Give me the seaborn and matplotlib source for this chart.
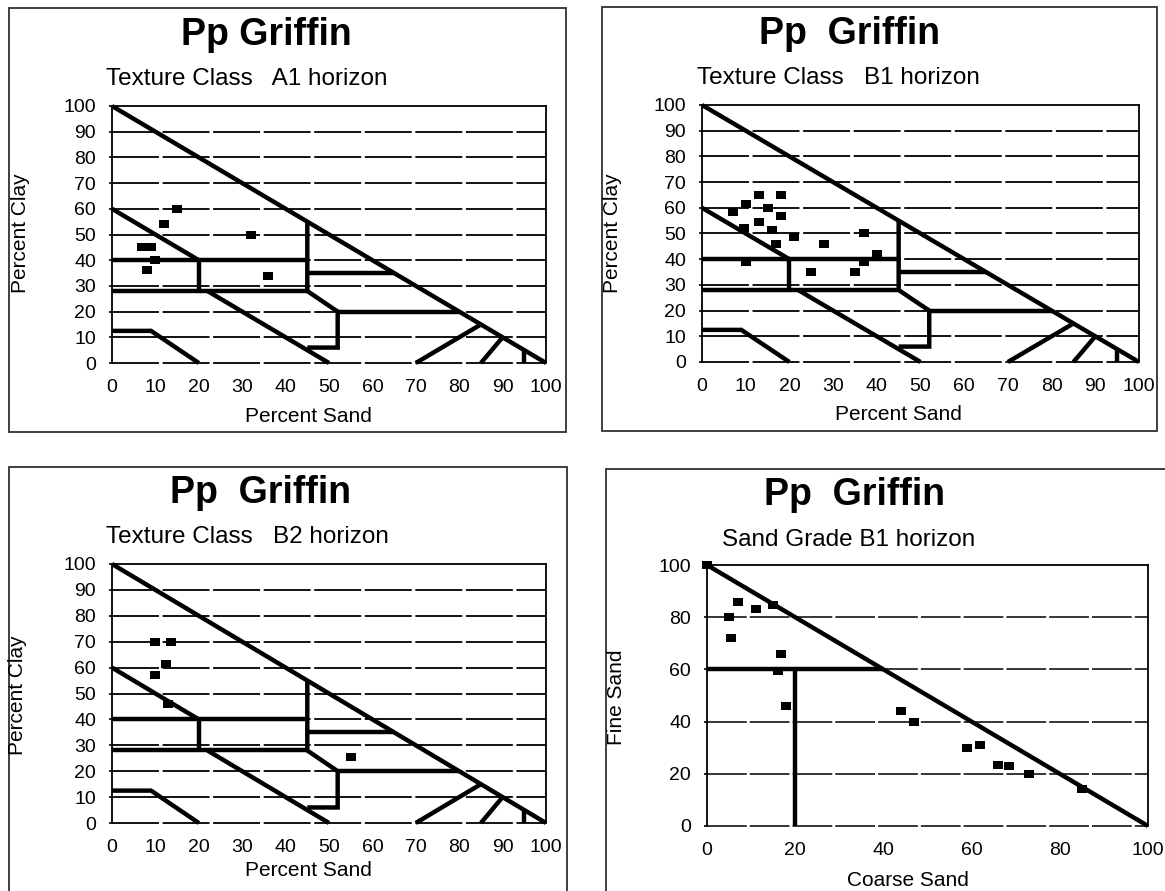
import numpy as np
import matplotlib
matplotlib.use("Agg")
import matplotlib.pyplot as plt
from matplotlib.markers import MarkerStyle
from matplotlib.patches import Rectangle
import seaborn as sns

# ---------------- data ----------------
# Texture class charts: (percent sand, percent clay)
a1_sand = [15, 12, 7, 9, 10, 8, 32, 36]
a1_clay = [60, 54, 45, 45, 40, 36, 50, 34]

b1_sand = [7, 10, 13, 18, 15, 18, 13, 9.5, 16, 17, 21, 28, 37, 40, 37, 10, 25, 35]
b1_clay = [58.5, 61.5, 65, 65, 60, 57, 54.5, 52, 51.5, 46, 48.5, 46, 50, 42, 39, 39, 35, 35]

b2_sand = [10, 13.5, 12.5, 10, 13, 55]
b2_clay = [70, 70, 61.5, 57, 46, 25.5]

# Sand grade chart: (coarse sand, fine sand)
sg_coarse = [0, 5, 7, 11, 15, 5.5, 16.7, 16, 18, 44, 47, 59, 62, 66, 68.5, 73, 85]
sg_fine = [100, 80, 86, 83, 84.5, 72, 66, 59.5, 46, 44, 40, 30, 31, 23.5, 23, 20, 14]

# Texture class boundary polylines (sand, clay)
tex_diag_x, tex_diag_y = [0, 100], [100, 0]
tex_clay60_x, tex_clay60_y = [0, 20], [60, 40]
tex_h40_x, tex_h40_y = [0, 45], [40, 40]
tex_v20_x, tex_v20_y = [20, 20], [40, 28]
tex_h28_x, tex_h28_y = [0, 45], [28, 28]
tex_v45_x, tex_v45_y = [45, 45, 52, 52, 45], [55, 28, 20, 6, 6]
tex_d22_x, tex_d22_y = [22, 50], [28, 0]
tex_h35_x, tex_h35_y = [45, 65], [35, 35]
tex_h20_x, tex_h20_y = [52, 80], [20, 20]
tex_silt_x, tex_silt_y = [0, 9, 20], [12.5, 12.5, 0]
tex_d70_x, tex_d70_y = [70, 85], [0, 15]
tex_d85_x, tex_d85_y = [85, 90], [0, 10]
tex_v95_x, tex_v95_y = [95, 95], [0, 5]

texture_lines = [
    (tex_diag_x, tex_diag_y), (tex_clay60_x, tex_clay60_y), (tex_h40_x, tex_h40_y),
    (tex_v20_x, tex_v20_y), (tex_h28_x, tex_h28_y), (tex_v45_x, tex_v45_y),
    (tex_d22_x, tex_d22_y), (tex_h35_x, tex_h35_y), (tex_h20_x, tex_h20_y),
    (tex_silt_x, tex_silt_y), (tex_d70_x, tex_d70_y), (tex_d85_x, tex_d85_y),
    (tex_v95_x, tex_v95_y),
]

# Sand grade boundary polylines (coarse, fine)
sg_diag_x, sg_diag_y = [0, 100], [100, 0]
sg_h60_x, sg_h60_y = [0, 40], [60, 60]
sg_v20_x, sg_v20_y = [20, 20], [60, 0]
sand_lines = [(sg_diag_x, sg_diag_y), (sg_h60_x, sg_h60_y), (sg_v20_x, sg_v20_y)]

tex_ticks = list(range(0, 101, 10))
sg_ticks = list(range(0, 101, 20))

main_title_1 = "Pp Griffin"
main_title_2 = "Pp  Griffin"
sub_a1 = "Texture Class   A1 horizon"
sub_b1 = "Texture Class   B1 horizon"
sub_b2 = "Texture Class   B2 horizon"
sub_sg = "Sand Grade B1 horizon"

# ---------------- style ----------------
sns.set_theme(style="white")
plt.rcParams["font.family"] = ["Liberation Sans", "DejaVu Sans"]
plt.rcParams["text.color"] = "black"
plt.rcParams["xtick.color"] = "black"
plt.rcParams["ytick.color"] = "black"

W, H = 1165, 891
fig = plt.figure(figsize=(W / 100, H / 100), dpi=100)
fig.patch.set_facecolor("white")

rect_marker = MarkerStyle(np.array([[-5, -3.5], [5, -3.5], [5, 3.5], [-5, 3.5], [-5, -3.5]]))


def add_ax(x0, ytop, x1, ybot):
    return fig.add_axes([x0 / W, 1 - ybot / H, (x1 - x0) / W, (ybot - ytop) / H])


def ftext(x, y, s, **kw):
    fig.text(x / W, 1 - y / H, s, color="black", **kw)


def box(x0, y0, x1, y1):
    fig.add_artist(Rectangle((x0 / W, 1 - y1 / H), (x1 - x0) / W, (y1 - y0) / H,
                             transform=fig.transFigure, fill=False, lw=1.3,
                             ec="#303030", zorder=0))


def setup(ax, ticks, grid_lw=1.3):
    ax.set_xlim(0, 100)
    ax.set_ylim(0, 100)
    ax.set_xticks(ticks)
    ax.set_yticks(ticks)
    ax.set_xticklabels([str(t) for t in ticks])
    ax.set_yticklabels([str(t) for t in ticks])
    ax.tick_params(axis="x", length=0, pad=11.5, labelsize=14, colors="black")
    ax.tick_params(axis="y", left=True, length=2.5, width=1.2, pad=9, labelsize=14,
                   colors="black")
    for t in ticks[:-1]:
        ax.axhline(t, color="black", lw=grid_lw, linestyle=(0, (26, 2.0)),
                   clip_on=False, zorder=1)
    for side in ["left", "right", "top"]:
        ax.spines[side].set_visible(True)
        ax.spines[side].set_color("black")
        ax.spines[side].set_linewidth(1.3)
    ax.spines["bottom"].set_visible(False)
    ax.set_xlabel("")
    ax.set_ylabel("")
    ax.set_facecolor("white")


def draw_lines(ax, lines):
    for xs, ys in lines:
        ax.plot(xs, ys, color="black", lw=3.2, solid_capstyle="butt",
                solid_joinstyle="miter", clip_on=False, zorder=3)


def draw_points(ax, xs, ys):
    sns.scatterplot(x=xs, y=ys, ax=ax, marker=rect_marker, s=56, color="black",
                    edgecolor="black", linewidth=0, zorder=5, clip_on=False,
                    legend=False)
    ax.set_xlabel("")
    ax.set_ylabel("")


# frames
box(9, 8, 566, 432)
box(602, 7, 1157, 431)
box(9, 467, 567, 905)
box(606, 469, 1175, 905)

title_kw = dict(ha="center", va="baseline", fontsize=27, fontweight="bold")
sub_kw = dict(ha="center", va="baseline", fontsize=17.5)
lab_kw = dict(ha="center", va="center", fontsize=15)

# Panel 1 - A1
ax1 = add_ax(112, 106, 546, 363)
setup(ax1, tex_ticks)
draw_lines(ax1, texture_lines)
draw_points(ax1, a1_sand, a1_clay)
ftext(266, 45, main_title_1, **title_kw)
ftext(247, 85, sub_a1, **sub_kw)
ftext(308, 417, "Percent Sand", **lab_kw)
ftext(21, 233, "Percent Clay", rotation=90, **lab_kw)

# Panel 2 - B1
ax2 = add_ax(702, 105, 1139, 362)
setup(ax2, tex_ticks)
draw_lines(ax2, texture_lines)
draw_points(ax2, b1_sand, b1_clay)
ftext(850, 44, main_title_2, **title_kw)
ftext(838, 84, sub_b1, **sub_kw)
ftext(898, 415, "Percent Sand", **lab_kw)
ftext(612, 233, "Percent Clay", rotation=90, **lab_kw)

# Panel 3 - B2
ax3 = add_ax(112, 564, 546, 823)
setup(ax3, tex_ticks)
draw_lines(ax3, texture_lines)
draw_points(ax3, b2_sand, b2_clay)
ftext(261, 503, main_title_2, **title_kw)
ftext(247, 543, sub_b2, **sub_kw)
ftext(308, 870, "Percent Sand", **lab_kw)
ftext(18, 695, "Percent Clay", rotation=90, **lab_kw)

# Panel 4 - Sand grade
ax4 = add_ax(707, 565, 1148, 826)
setup(ax4, sg_ticks, grid_lw=1.1)
draw_lines(ax4, sand_lines)
draw_points(ax4, sg_coarse, sg_fine)
ftext(855, 505, main_title_2, **title_kw)
ftext(849, 546, sub_sg, **sub_kw)
ftext(908, 880, "Coarse Sand", **lab_kw)
ftext(616, 697, "Fine Sand", rotation=90, **lab_kw)

fig.savefig("out.png", dpi=100)
